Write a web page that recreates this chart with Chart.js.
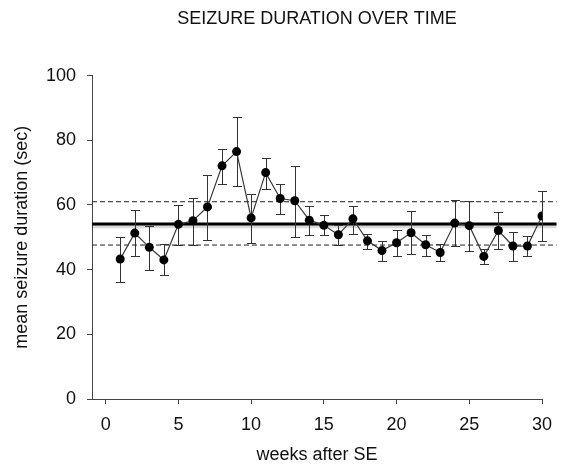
<!DOCTYPE html>
<html>
<head>
<meta charset="utf-8">
<script src="https://cdn.jsdelivr.net/npm/chart.js@4/dist/chart.umd.min.js"></script>
<style>
  html, body { margin: 0; padding: 0; background: #fff; }
  #wrap { width: 565px; height: 471px; }
</style>
</head>
<body>
<div id="wrap"><canvas id="durationChart"></canvas></div>
<script>
// weeks after SE and mean seizure duration (sec) with error bar ends
const weeks = [1, 2, 3, 4, 5, 6, 7, 8, 9, 10, 11, 12, 13, 14, 15, 16, 17, 18, 19, 20, 21, 22, 23, 24, 25, 26, 27, 28, 29, 30];
const meanDuration = [43.3, 51.3, 46.9, 43.0, 54.0, 55.1, 59.4, 72.1, 76.5, 56.0, 70.0, 62.0, 61.3, 55.3, 53.7, 50.8, 55.7, 48.9, 45.9, 48.3, 51.4, 47.7, 45.3, 54.4, 53.6, 44.1, 52.1, 47.3, 47.3, 56.6];
const errorHigh = [50.2, 58.5, 53.6, 47.9, 59.9, 62.3, 69.4, 77.4, 87.1, 63.4, 74.5, 66.4, 72.0, 59.7, 56.8, 53.9, 59.7, 51.0, 49.0, 52.4, 58.2, 50.7, 47.9, 61.6, 61.3, 46.5, 57.7, 51.7, 50.5, 64.4];
const errorLow = [36.3, 44.2, 39.9, 38.4, 47.7, 47.6, 49.1, 66.4, 65.9, 48.3, 65.0, 57.2, 50.2, 50.6, 50.7, 47.6, 51.0, 46.5, 42.7, 44.2, 44.8, 44.3, 42.6, 47.2, 45.9, 41.8, 46.3, 42.7, 44.1, 48.9];

// overall mean and its band
const overallMean = 54.1;
const meanShadow = 53.4;
const upperLimit = 61.0;
const lowerLimit = 47.6;
const refSpan = [-0.94, 31];

const xTicks = [0, 5, 10, 15, 20, 25, 30];
const yTicks = [0, 20, 40, 60, 80, 100];

const FONT = "'Liberation Sans', Arial, sans-serif";

function hLine(value) {
  return refSpan.map(x => ({ x, y: value }));
}

const errorBars = {
  id: 'errorBars',
  beforeDatasetDraw(chart, args) {
    if (args.index !== 0) return;
    const { ctx, scales: { x, y } } = chart;
    ctx.save();
    ctx.strokeStyle = '#333';
    ctx.lineWidth = 1;
    weeks.forEach((w, i) => {
      const px = Math.round(x.getPixelForValue(w)) + 0.5;
      const top = Math.round(y.getPixelForValue(errorHigh[i])) + 0.5;
      const bot = Math.round(y.getPixelForValue(errorLow[i])) + 0.5;
      ctx.beginPath();
      ctx.moveTo(px, top);
      ctx.lineTo(px, bot);
      ctx.moveTo(px - 4.5, top);
      ctx.lineTo(px + 4.5, top);
      ctx.moveTo(px - 4.5, bot);
      ctx.lineTo(px + 4.5, bot);
      ctx.stroke();
    });
    ctx.restore();
  }
};

new Chart(document.getElementById('durationChart').getContext('2d'), {
  type: 'scatter',
  data: {
    datasets: [
      {
        label: 'mean',
        data: weeks.map((w, i) => ({ x: w, y: meanDuration[i] })),
        showLine: true,
        borderColor: '#3a3a3a',
        borderWidth: 1.2,
        pointRadius: 4.5,
        pointBackgroundColor: '#000',
        pointBorderColor: '#000',
        pointBorderWidth: 0
      },
      {
        label: 'overall',
        data: hLine(overallMean),
        showLine: true,
        borderColor: '#000',
        borderWidth: 3,
        pointRadius: 0,
        clip: false
      },
      {
        label: 'upper',
        data: hLine(upperLimit),
        showLine: true,
        borderColor: '#222',
        borderWidth: 1,
        borderDash: [5, 3],
        pointRadius: 0,
        clip: false
      },
      {
        label: 'lower',
        data: hLine(lowerLimit),
        showLine: true,
        borderColor: '#222',
        borderWidth: 1,
        borderDash: [5, 3],
        pointRadius: 0,
        clip: false
      },
      {
        label: 'shadow',
        data: hLine(meanShadow),
        showLine: true,
        borderColor: 'rgba(0,0,0,0.15)',
        borderWidth: 4,
        pointRadius: 0,
        clip: false
      }
    ]
  },
  options: {
    responsive: true,
    maintainAspectRatio: false,
    animation: false,
    layout: { padding: { left: 0, right: 23, top: 0, bottom: 0 } },
    plugins: {
      legend: { display: false },
      tooltip: { enabled: false },
      title: {
        display: true,
        text: 'SEIZURE DURATION OVER TIME',
        color: '#111',
        font: { family: FONT, size: 18, weight: 'normal' },
        padding: { top: 8, bottom: 46 },
        fullSize: false
      }
    },
    scales: {
      x: {
        type: 'linear',
        min: refSpan[0],
        max: 30,
        afterBuildTicks: scale => { scale.ticks = xTicks.map(v => ({ value: v })); },
        afterFit: scale => { scale.height = 72; },
        border: { display: true, color: '#444', width: 1 },
        grid: { display: true, drawOnChartArea: false, tickLength: 5, color: '#444' },
        ticks: { color: '#111', font: { family: FONT, size: 18 }, padding: 10, maxRotation: 0 },
        title: {
          display: true,
          text: 'weeks after SE',
          color: '#111',
          font: { family: FONT, size: 18 },
          padding: { top: 4, bottom: 5 }
        }
      },
      y: {
        min: 0,
        max: 100,
        afterBuildTicks: scale => { scale.ticks = yTicks.map(v => ({ value: v })); },
        afterFit: scale => { scale.width = 92; },
        border: { display: true, color: '#444', width: 1 },
        grid: { display: true, drawOnChartArea: false, tickLength: 5, color: '#444' },
        ticks: { color: '#111', font: { family: FONT, size: 18 }, padding: 11 },
        title: {
          display: true,
          text: 'mean seizure duration (sec)',
          color: '#111',
          font: { family: FONT, size: 18 },
          padding: { top: 11, bottom: 0 }
        }
      }
    }
  },
  plugins: [errorBars]
});
</script>
</body>
</html>
